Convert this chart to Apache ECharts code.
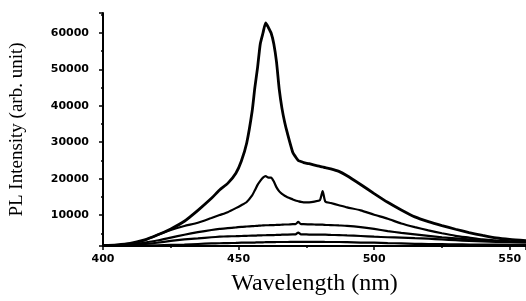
<!DOCTYPE html>
<html>
<head>
<meta charset="utf-8">
<script src="https://cdn.jsdelivr.net/npm/echarts@6/dist/echarts.min.js"></script>
<style>
  html, body { margin: 0; padding: 0; background: #fff; }
  #plChart { width: 526px; height: 301px; }
</style>
</head>
<body>
<div id="plChart"></div>
<script>
// wavelength grid (nm), denser around the 460 nm peak
var wavelength = [400,405,410,415,420,425,430,435,440,443,446,449,451,453,455,456,457,458,459,460,461,462,463,464,465,466,467,468,470,471,472,473,474,476,478,480,481,482,484,487,490,495,500,505,510,515,520,525,530,535,540,545,550,556];

// PL intensities, top curve first
var curveA = [1600,1800,2200,3100,4500,6200,8300,11300,14600,16900,18700,21500,24800,29800,38500,45000,50500,57000,60000,62800,61500,60000,57000,52000,44500,39300,35500,32500,27200,26000,25000,24700,24400,24100,23700,23400,23200,23000,22700,22000,20800,18400,15900,13500,11400,9500,8200,7100,6100,5200,4400,3700,3300,3000];
var curveB = [1600,1700,2000,3000,4500,5900,7000,7900,9200,10000,10800,11900,12700,13600,15400,16800,18300,19400,20300,20700,20300,20300,19200,17600,16500,15800,15300,14900,14300,14000,13800,13600,13500,13500,13700,14100,16600,13700,13300,12700,12100,11300,10100,9000,7700,6700,5800,5000,4300,3800,3300,3000,2800,2600];
var curveC = [1600,1700,1900,2400,3000,3800,4600,5300,5900,6200,6400,6600,6750,6850,6950,7000,7050,7100,7150,7200,7200,7250,7250,7300,7300,7350,7400,7400,7500,7500,8100,7500,7500,7450,7400,7350,7350,7300,7250,7150,7050,6700,6200,5600,5100,4700,4300,3900,3600,3300,3000,2800,2700,2600];
var curveD = [1600,1650,1750,2000,2400,2900,3300,3600,3900,4050,4150,4200,4250,4300,4350,4350,4400,4400,4450,4450,4500,4500,4500,4550,4550,4600,4600,4650,4700,4700,5200,4700,4700,4650,4650,4600,4600,4600,4550,4500,4400,4250,4050,3900,3800,3650,3500,3300,3100,2900,2750,2650,2600,2500];
var curveE = [1550,1560,1600,1650,1700,1800,1900,2050,2200,2250,2300,2350,2400,2400,2450,2450,2500,2500,2500,2550,2550,2550,2550,2600,2600,2600,2600,2600,2650,2650,2650,2650,2650,2650,2650,2650,2650,2600,2600,2600,2550,2450,2400,2300,2200,2100,2050,2000,1950,1900,1900,1900,1900,1900];

var curves = [curveA, curveB, curveC, curveD, curveE];

function pairs(vals) {
  return wavelength.map(function (w, i) { return [w, vals[i]]; });
}

var chart = echarts.init(document.getElementById('plChart'));
chart.setOption({
  animation: false,
  backgroundColor: '#ffffff',
  grid: { left: 103, right: 0, top: 13, bottom: 48 },
  xAxis: {
    type: 'value',
    min: 400,
    max: 556,
    interval: 50,
    name: 'Wavelength (nm)',
    nameLocation: 'middle',
    nameGap: 26,
    nameTextStyle: { fontFamily: 'Liberation Serif', fontSize: 24, color: '#000' },
    axisLine: { lineStyle: { color: '#000', width: 2 } },
    axisTick: { length: 4, lineStyle: { color: '#000', width: 1.5 } },
    minorTick: { show: true, splitNumber: 2, length: 2, lineStyle: { color: '#000', width: 1.5 } },
    axisLabel: {
      margin: 8, color: '#000', fontFamily: 'DejaVu Sans', fontWeight: 'bold', fontSize: 11,
      showMaxLabel: false
    },
    splitLine: { show: false }
  },
  yAxis: {
    type: 'value',
    min: 1500,
    max: 65500,
    splitNumber: 5, // gives 10000 steps, no interval so ticks stay on round numbers
    name: 'PL Intensity (arb. unit)',
    nameLocation: 'middle',
    nameGap: 76,
    nameTextStyle: { fontFamily: 'Liberation Serif', fontSize: 19, color: '#000' },
    axisLine: { show: true, lineStyle: { color: '#000', width: 2 } },
    axisTick: { show: true, length: 4, lineStyle: { color: '#000', width: 1.5 } },
    minorTick: { show: true, splitNumber: 2, length: 2, lineStyle: { color: '#000', width: 1.5 } },
    axisLabel: {
      margin: 14, color: '#000', fontFamily: 'DejaVu Sans', fontWeight: 'bold', fontSize: 11,
      showMinLabel: false, showMaxLabel: false,
      formatter: function (v) { return v % 10000 === 0 ? String(v) : ''; }
    },
    splitLine: { show: false }
  },
  series: curves.map(function (c, i) {
    return {
      type: 'line',
      data: pairs(c),
      showSymbol: false,
      smooth: 0.2,
      lineStyle: { color: '#000', width: i === 0 ? 2.8 : 2.2 }
    };
  })
});
</script>
</body>
</html>
